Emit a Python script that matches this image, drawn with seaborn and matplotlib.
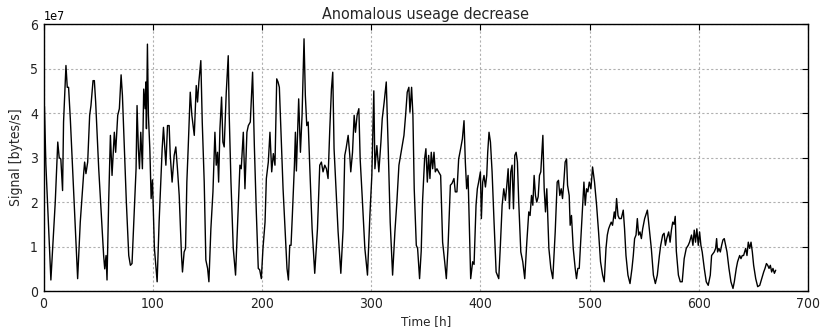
import numpy as np
import pandas as pd
import matplotlib
matplotlib.use("Agg")
import matplotlib.pyplot as plt
import seaborn as sns

# Key points (time in hours, signal in units of 1e7 bytes/s)
hours = [
    0, 0.8, 2.1, 6.7, 10.7, 13, 14.3, 15.8, 17.4, 18.3, 20.5, 21.7, 22.9, 24.5, 31.2,
    33.6, 36.7, 37.6, 38.8, 40.4, 42.2, 43.4, 45.3, 46.5, 47.7, 50.5, 55, 56, 57.2, 58.1,
    59.6, 61.2, 62.7, 64.8, 66, 67.9, 69.4, 71, 72.2, 74, 75.8, 78, 79.5, 81,
    82.6, 84.7, 85.6, 86.8, 87.8, 89, 90.5, 91.7, 93, 93.6, 94.2, 95.1, 96, 97.3, 98.5, 99.7, 101.5, 104,
    105.8, 108.6, 109.8, 112, 113.5, 115, 116, 117.7,
    119.6, 121.1, 122.6, 124.2, 126.3, 127.2, 128.7, 130,
    131.2, 132.4, 134.3, 135.8, 138, 139.8, 141, 142.2, 144, 145.3, 147.1, 148.6, 150.2, 151.4,
    153.2, 155.1, 156.9, 158.1, 159.3, 160.3, 161.5, 163, 164.2, 165.4, 167.3, 169.1, 170, 171.6, 173.7, 175.8,
    177.7, 179.8, 181, 182.9, 184.4, 186.2, 187.5, 189.3, 191.4, 193, 194.8, 196.6, 197.9, 199.4,
    200.9, 202.8, 204, 205.8, 207.3, 208.9, 210.4, 211.9, 213.5, 214.7, 215.9, 217.4, 219.3, 221.1, 222.9, 224.2,
    225.4, 226.6, 227.8, 229.7, 230.6, 231.5, 232.6, 233.6, 235.2, 236.7, 238.5, 239.7, 241, 242.3, 243.7, 245.9, 248.3,
    250.8, 252.9, 254.4, 255.9, 257.5, 259, 260.5, 262.1, 263.6, 264.8, 266, 267.3, 269.7, 272.2,
    274.3, 275.8, 277, 278.9, 280.4, 281.3, 282.9, 284.4, 285.6, 287.1, 288.7, 289.9, 291.7, 294.2, 296.6,
    298.8, 300.6, 302.4, 303.4, 305.2, 307, 308.9, 310.1, 311.9, 313.8, 315.6, 317.4, 319.6,
    321.7, 323.5, 325.4, 326.9, 328.4, 330, 331.5, 333, 334.5, 335.5, 337, 338.2, 339.4, 341.3, 342.5, 344.3,
    345.8, 347, 348.9, 350.1, 351.4, 352.6, 353.8, 355, 356.3, 357.5, 358.7, 360.2, 361.7, 363.6, 365.4, 367.3, 368.8,
    370.3, 372.5, 374, 375.8, 377, 378.5, 380.1, 381.9, 383.5, 385, 386.2, 387.4, 388.7, 389.9, 391.1, 392.9, 394.2,
    396, 397.2, 398.4, 400, 400.9, 402.1, 403.3, 404.6, 405.8, 406.7, 407.9, 409.2, 410.7, 412.5, 414.4, 416.8,
    418.3, 419.9, 421.4, 422.9, 424.2, 425.4, 426.6, 427.8, 429, 430.3, 431.5, 432.7, 433.9, 435.1, 437, 438.8, 440.6,
    442.5, 444.3, 445.5, 446.8, 448, 449.2, 450.4, 451.6, 452.9, 454.1, 455.3, 457.2, 458.4, 459.6, 460.8, 462.7, 464.5, 466.3,
    468.5, 470.3, 471.5, 472.7, 474, 475.2, 476.4, 477.6, 478.9, 479.8, 481.3, 482.2, 483.4, 485, 486.8, 488, 489.2, 490.5,
    492.3, 493.5, 494.8, 496, 497.2, 498.4, 499.7, 501.2, 502.7, 504.5, 506.4, 508.2, 510, 511.9, 513.4,
    515, 516.2, 517.4, 518.6, 519.8, 521, 522.6, 523.5, 524.7, 526, 527.2, 529, 530.8, 532, 533.3, 535.1, 537,
    538.8, 540, 541.2, 542.5, 543.7, 544.9, 546.1, 547.4, 548.6, 550.4, 552.9, 554.7, 556.5, 558.4, 560.2,
    562, 563.9, 565.1, 566.9, 568.2, 569.4, 570.6, 572.4, 573.7, 574.9, 576.1, 577.3, 578.4, 579.4, 581.3, 583, 584.8,
    586.6, 588.5, 590.3, 591.5, 593.3, 594.6, 595.8, 597, 598.2, 599.5, 600.7, 601.9, 603.1, 605, 606.8, 608.6,
    610.5, 611.7, 612.9, 614.1, 615.4, 616.3, 617.2, 618.4, 619.7, 620.9, 622.1, 623.3, 624.6, 625.8, 627.6, 629.4, 631.3, 632.5,
    634.3, 635.5, 637.4, 638.6, 639.8, 641, 642.9, 644.1, 645.3, 646.6, 647.8, 649, 650.2, 652.1, 653.9, 655.8,
    657.6, 659.4, 660.6, 661.9, 663.1, 664.3, 665.5, 666.7, 667.9, 669.2, 670.4,
]

signal_1e7 = [
    4.2, 4.15, 2.85, 0.25, 2.0, 3.35, 3.0, 2.97, 2.26, 3.8, 5.07, 4.58, 4.58, 3.87, 0.28,
    1.55, 2.64, 2.9, 2.64, 2.9, 3.95, 4.17, 4.73, 4.73, 4.25, 2.75, 0.8, 0.5, 0.8, 0.25,
    2.0, 3.5, 2.6, 3.57, 3.12, 3.95, 4.1, 4.86, 4.4, 3.2, 2.0, 0.8, 0.58, 0.62,
    1.55, 2.75, 4.17, 3.2, 2.75, 3.57, 2.75, 4.54, 4.1, 4.7, 3.65, 5.55, 3.95, 3.2, 2.08, 2.5, 0.96, 0.21,
    1.55, 3.2, 3.68, 2.83, 3.72, 3.72, 3.05, 2.45,
    3.05, 3.24, 2.75, 2.15, 0.8, 0.43, 0.88, 0.96,
    2.45, 3.2, 4.47, 3.95, 3.5, 4.62, 4.25, 4.7, 5.18, 3.8, 2.45, 0.7, 0.51, 0.21,
    1.4, 2.23, 3.57, 2.83, 3.12, 2.45, 3.65, 4.36, 3.35, 3.24, 4.47, 5.29, 3.95, 2.45, 0.96, 0.36,
    1.55, 2.83, 2.75, 3.57, 2.3, 3.57, 3.72, 3.8, 4.92, 3.27, 1.78, 0.51, 0.48, 0.28,
    0.96, 1.55, 2.53, 2.9, 3.57, 2.68, 3.09, 2.83, 4.77, 4.7, 4.58, 3.57, 2.3, 1.4, 0.51, 0.25,
    1.03, 1.03, 1.7, 2.83, 3.57, 2.7, 3.57, 4.32, 3.12, 3.95, 5.67, 4.4, 3.72, 3.8, 2.83, 1.4, 0.4,
    1.4, 2.83, 2.9, 2.68, 2.83, 2.75, 2.53, 3.65, 4.54, 4.92, 3.2, 2.53, 1.33, 0.4,
    1.4, 3.05, 3.2, 3.5, 3.05, 2.68, 3.12, 3.95, 3.57, 3.95, 4.1, 2.97, 2.15, 0.96, 0.36,
    1.7, 2.6, 4.5, 2.75, 3.27, 2.68, 3.35, 3.87, 4.25, 4.7, 3.2, 1.55, 0.36,
    1.33, 2.0, 2.83, 3.05, 3.27, 3.5, 3.95, 4.47, 4.58, 4.02, 4.58, 3.95, 2.3, 1.03, 0.96, 0.28,
    0.9, 2.0, 2.97, 3.2, 2.45, 3.05, 2.53, 3.12, 2.75, 3.12, 2.68, 2.75, 2.68, 2.6, 1.1, 0.66, 0.28,
    0.96, 2.38, 2.42, 2.53, 2.23, 2.23, 2.97, 3.2, 3.42, 3.83, 2.9, 2.3, 2.6, 1.4, 0.28, 0.66, 0.6,
    1.93, 2.3, 2.45, 2.68, 1.63, 2.45, 2.6, 2.34, 2.6, 3.12, 3.57, 3.35, 2.68, 1.55, 0.43, 0.28,
    1.03, 1.93, 2.3, 2.04, 2.38, 2.75, 1.85, 2.68, 2.83, 1.85, 3.05, 3.12, 2.9, 2.0, 0.88, 0.66, 0.28,
    1.1, 1.78, 1.7, 2.15, 1.93, 2.6, 2.15, 2.0, 2.12, 2.6, 2.68, 3.5, 2.3, 1.78, 2.3, 0.96, 0.51, 0.28,
    1.33, 2.45, 2.49, 2.15, 2.3, 2.08, 2.45, 2.9, 2.97, 2.38, 2.15, 1.48, 1.7, 0.96, 0.51, 0.28, 0.51, 0.51,
    1.33, 1.85, 2.45, 1.93, 2.3, 2.23, 2.45, 2.3, 2.79, 2.45, 1.93, 1.33, 0.66, 0.36, 0.21,
    0.96, 1.26, 1.4, 1.48, 1.55, 1.48, 1.78, 1.63, 2.08, 1.7, 1.63, 1.63, 1.82, 1.4, 0.8, 0.36, 0.17,
    0.51, 0.8, 1.18, 1.26, 1.63, 1.26, 1.33, 1.18, 1.4, 1.63, 1.82, 1.4, 0.96, 0.36, 0.17,
    0.36, 0.8, 1.03, 1.26, 1.3, 1.03, 1.18, 1.33, 1.1, 1.37, 1.55, 1.5, 1.68, 0.9, 0.36, 0.21, 0.21,
    0.73, 0.96, 1.03, 1.1, 1.26, 1.03, 1.37, 1.1, 1.4, 1.03, 1.33, 1.03, 0.88, 0.51, 0.21, 0.13,
    0.36, 0.8, 0.84, 0.88, 0.96, 1.18, 0.88, 0.96, 0.88, 1.03, 1.15, 1.18, 1.03, 0.88, 0.51, 0.21, 0.06, 0.21,
    0.51, 0.66, 0.8, 0.73, 0.8, 0.8, 0.96, 0.8, 1.1, 0.96, 1.1, 0.88, 0.58, 0.28, 0.1, 0.13,
    0.28, 0.43, 0.51, 0.62, 0.58, 0.51, 0.58, 0.43, 0.51, 0.4, 0.47,
]

x_ticks = [0, 100, 200, 300, 400, 500, 600, 700]
y_ticks = [0, 1, 2, 3, 4, 5, 6]

df = pd.DataFrame({"Time": hours, "Signal": np.array(signal_1e7) * 1e7})

sns.set_style("white")
plt.rcParams["font.family"] = ["DejaVu Sans"]
plt.rcParams["font.stretch"] = "condensed"

fig = plt.figure(figsize=(8.22, 3.35), dpi=100)
ax = fig.add_axes([0.053, 0.131, 0.930, 0.797])

sns.lineplot(data=df, x="Time", y="Signal", color="black", linewidth=1.0, ax=ax,
             estimator=None, sort=False)

ax.set_xlim(0, 700)
ax.set_ylim(0, 6e7)
ax.set_xticks(x_ticks)
ax.set_yticks([v * 1e7 for v in y_ticks])
ax.ticklabel_format(axis="y", style="sci", scilimits=(0, 0), useMathText=False)
ax.yaxis.get_offset_text().set_fontsize(9)

ax.grid(True, color="#b0b0b0", linestyle=(0, (2, 2)), linewidth=0.8)
for s in ax.spines.values():
    s.set_color("black")
    s.set_linewidth(1.0)
ax.tick_params(direction="in", top=True, right=True, length=4, width=0.8,
               labelsize=10, colors="black", pad=4)
for lab in ax.get_xticklabels() + ax.get_yticklabels():
    lab.set_color("#222222")

ax.set_title("Anomalous useage decrease", fontsize=11.5, pad=4)
ax.set_xlabel("Time [h]", fontsize=9.5, labelpad=3)
ax.set_ylabel("Signal [bytes/s]", fontsize=10, labelpad=5)

fig.savefig("out.png", dpi=100, facecolor="white")
